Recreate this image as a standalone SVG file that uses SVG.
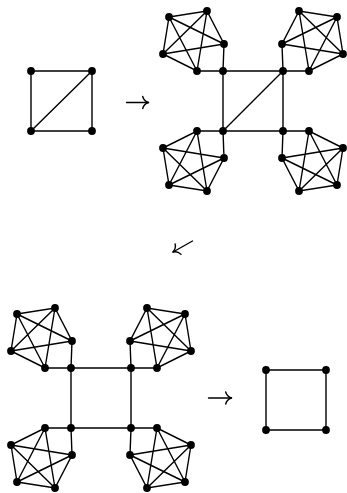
<svg xmlns="http://www.w3.org/2000/svg" xmlns:xlink="http://www.w3.org/1999/xlink" width="347" height="493" viewBox="0 0 347 493">
<style>
.e{stroke:#000;stroke-width:1.4;fill:none;stroke-linecap:round}
.v{fill:#000}
.ar{stroke:#000;stroke-width:1.4;fill:none;stroke-linecap:round;stroke-linejoin:round}
</style>
<defs>
<path id="head" class="ar" d="M-5.8,-6 C-4.9,-2.6 -2.2,-0.7 0,0 C-2.2,0.7 -4.9,2.6 -5.8,6"/>
</defs>
<rect width="347" height="493" fill="#fff"/>
<g id="connectors">
<path class="e" d="M31,71H92V131H31Z M31,131L92,71"/>
<path class="e" d="M223,71H283V131H223Z M223,131L283,71"/>
<path class="e" d="M169,17L207,11L224,44L223,71L197,71L163,54Z M169,17L224,44 M169,17L197,71 M207,11L163,54 M207,11L197,71 M224,44L163,54"/>
<path class="e" d="M337,17L299,11L282,44L283,71L309,71L343,54Z M337,17L282,44 M337,17L309,71 M299,11L343,54 M299,11L309,71 M282,44L343,54"/>
<path class="e" d="M169,185L207,191L224,158L223,131L197,131L163,148Z M169,185L224,158 M169,185L197,131 M207,191L163,148 M207,191L197,131 M224,158L163,148"/>
<path class="e" d="M337,185L299,191L282,158L283,131L309,131L343,148Z M337,185L282,158 M337,185L309,131 M299,191L343,148 M299,191L309,131 M282,158L343,148"/>
<path class="e" d="M71,368H131V428H71Z"/>
<path class="e" d="M17,314L55,308L72,341L71,368L45,368L11,351Z M17,314L72,341 M17,314L45,368 M55,308L11,351 M55,308L45,368 M72,341L11,351"/>
<path class="e" d="M185,314L147,308L130,341L131,368L157,368L191,351Z M185,314L130,341 M185,314L157,368 M147,308L191,351 M147,308L157,368 M130,341L191,351"/>
<path class="e" d="M17,482L55,488L72,455L71,428L45,428L11,445Z M17,482L72,455 M17,482L45,428 M55,488L11,445 M55,488L45,428 M72,455L11,445"/>
<path class="e" d="M185,482L147,488L130,455L131,428L157,428L191,445Z M185,482L130,455 M185,482L157,428 M147,488L191,445 M147,488L157,428 M130,455L191,445"/>
<path class="e" d="M266,370H326V430H266Z"/>
<g id="arrow1"><path class="ar" d="M126.5,102.5H148.5"/><use xlink:href="#head" transform="translate(148.5,102.5)"/></g>
<g id="arrow2"><path class="ar" d="M192.5,241L173,252"/><use xlink:href="#head" transform="translate(173,252) rotate(150.6)"/></g>
<g id="arrow3"><path class="ar" d="M208.5,398H231.5"/><use xlink:href="#head" transform="translate(231.5,398)"/></g>
</g>
<g id="graph0">
<g id="g0v1"><circle class="v" cx="31" cy="71" r="3.9"/></g>
<g id="g0v2"><circle class="v" cx="92" cy="71" r="3.9"/></g>
<g id="g0v3"><circle class="v" cx="31" cy="131" r="3.9"/></g>
<g id="g0v4"><circle class="v" cx="92" cy="131" r="3.9"/></g>
</g>
<g id="graph1">
<g id="g1s1"><circle class="v" cx="223" cy="71" r="3.9"/></g>
<g id="g1s2"><circle class="v" cx="283" cy="71" r="3.9"/></g>
<g id="g1s3"><circle class="v" cx="223" cy="131" r="3.9"/></g>
<g id="g1s4"><circle class="v" cx="283" cy="131" r="3.9"/></g>
<g id="g1a1"><circle class="v" cx="169" cy="17" r="3.9"/></g>
<g id="g1a2"><circle class="v" cx="207" cy="11" r="3.9"/></g>
<g id="g1a3"><circle class="v" cx="224" cy="44" r="3.9"/></g>
<g id="g1a4"><circle class="v" cx="163" cy="54" r="3.9"/></g>
<g id="g1a5"><circle class="v" cx="197" cy="71" r="3.9"/></g>
<g id="g1b1"><circle class="v" cx="337" cy="17" r="3.9"/></g>
<g id="g1b2"><circle class="v" cx="299" cy="11" r="3.9"/></g>
<g id="g1b3"><circle class="v" cx="282" cy="44" r="3.9"/></g>
<g id="g1b4"><circle class="v" cx="343" cy="54" r="3.9"/></g>
<g id="g1b5"><circle class="v" cx="309" cy="71" r="3.9"/></g>
<g id="g1c1"><circle class="v" cx="169" cy="185" r="3.9"/></g>
<g id="g1c2"><circle class="v" cx="207" cy="191" r="3.9"/></g>
<g id="g1c3"><circle class="v" cx="224" cy="158" r="3.9"/></g>
<g id="g1c4"><circle class="v" cx="163" cy="148" r="3.9"/></g>
<g id="g1c5"><circle class="v" cx="197" cy="131" r="3.9"/></g>
<g id="g1d1"><circle class="v" cx="337" cy="185" r="3.9"/></g>
<g id="g1d2"><circle class="v" cx="299" cy="191" r="3.9"/></g>
<g id="g1d3"><circle class="v" cx="282" cy="158" r="3.9"/></g>
<g id="g1d4"><circle class="v" cx="343" cy="148" r="3.9"/></g>
<g id="g1d5"><circle class="v" cx="309" cy="131" r="3.9"/></g>
</g>
<g id="graph2">
<g id="g2s1"><circle class="v" cx="71" cy="368" r="3.9"/></g>
<g id="g2s2"><circle class="v" cx="131" cy="368" r="3.9"/></g>
<g id="g2s3"><circle class="v" cx="71" cy="428" r="3.9"/></g>
<g id="g2s4"><circle class="v" cx="131" cy="428" r="3.9"/></g>
<g id="g2a1"><circle class="v" cx="17" cy="314" r="3.9"/></g>
<g id="g2a2"><circle class="v" cx="55" cy="308" r="3.9"/></g>
<g id="g2a3"><circle class="v" cx="72" cy="341" r="3.9"/></g>
<g id="g2a4"><circle class="v" cx="11" cy="351" r="3.9"/></g>
<g id="g2a5"><circle class="v" cx="45" cy="368" r="3.9"/></g>
<g id="g2b1"><circle class="v" cx="185" cy="314" r="3.9"/></g>
<g id="g2b2"><circle class="v" cx="147" cy="308" r="3.9"/></g>
<g id="g2b3"><circle class="v" cx="130" cy="341" r="3.9"/></g>
<g id="g2b4"><circle class="v" cx="191" cy="351" r="3.9"/></g>
<g id="g2b5"><circle class="v" cx="157" cy="368" r="3.9"/></g>
<g id="g2c1"><circle class="v" cx="17" cy="482" r="3.9"/></g>
<g id="g2c2"><circle class="v" cx="55" cy="488" r="3.9"/></g>
<g id="g2c3"><circle class="v" cx="72" cy="455" r="3.9"/></g>
<g id="g2c4"><circle class="v" cx="11" cy="445" r="3.9"/></g>
<g id="g2c5"><circle class="v" cx="45" cy="428" r="3.9"/></g>
<g id="g2d1"><circle class="v" cx="185" cy="482" r="3.9"/></g>
<g id="g2d2"><circle class="v" cx="147" cy="488" r="3.9"/></g>
<g id="g2d3"><circle class="v" cx="130" cy="455" r="3.9"/></g>
<g id="g2d4"><circle class="v" cx="191" cy="445" r="3.9"/></g>
<g id="g2d5"><circle class="v" cx="157" cy="428" r="3.9"/></g>
</g>
<g id="graph3">
<g id="g3v1"><circle class="v" cx="266" cy="370" r="3.9"/></g>
<g id="g3v2"><circle class="v" cx="326" cy="370" r="3.9"/></g>
<g id="g3v3"><circle class="v" cx="266" cy="430" r="3.9"/></g>
<g id="g3v4"><circle class="v" cx="326" cy="430" r="3.9"/></g>
</g>
</svg>
